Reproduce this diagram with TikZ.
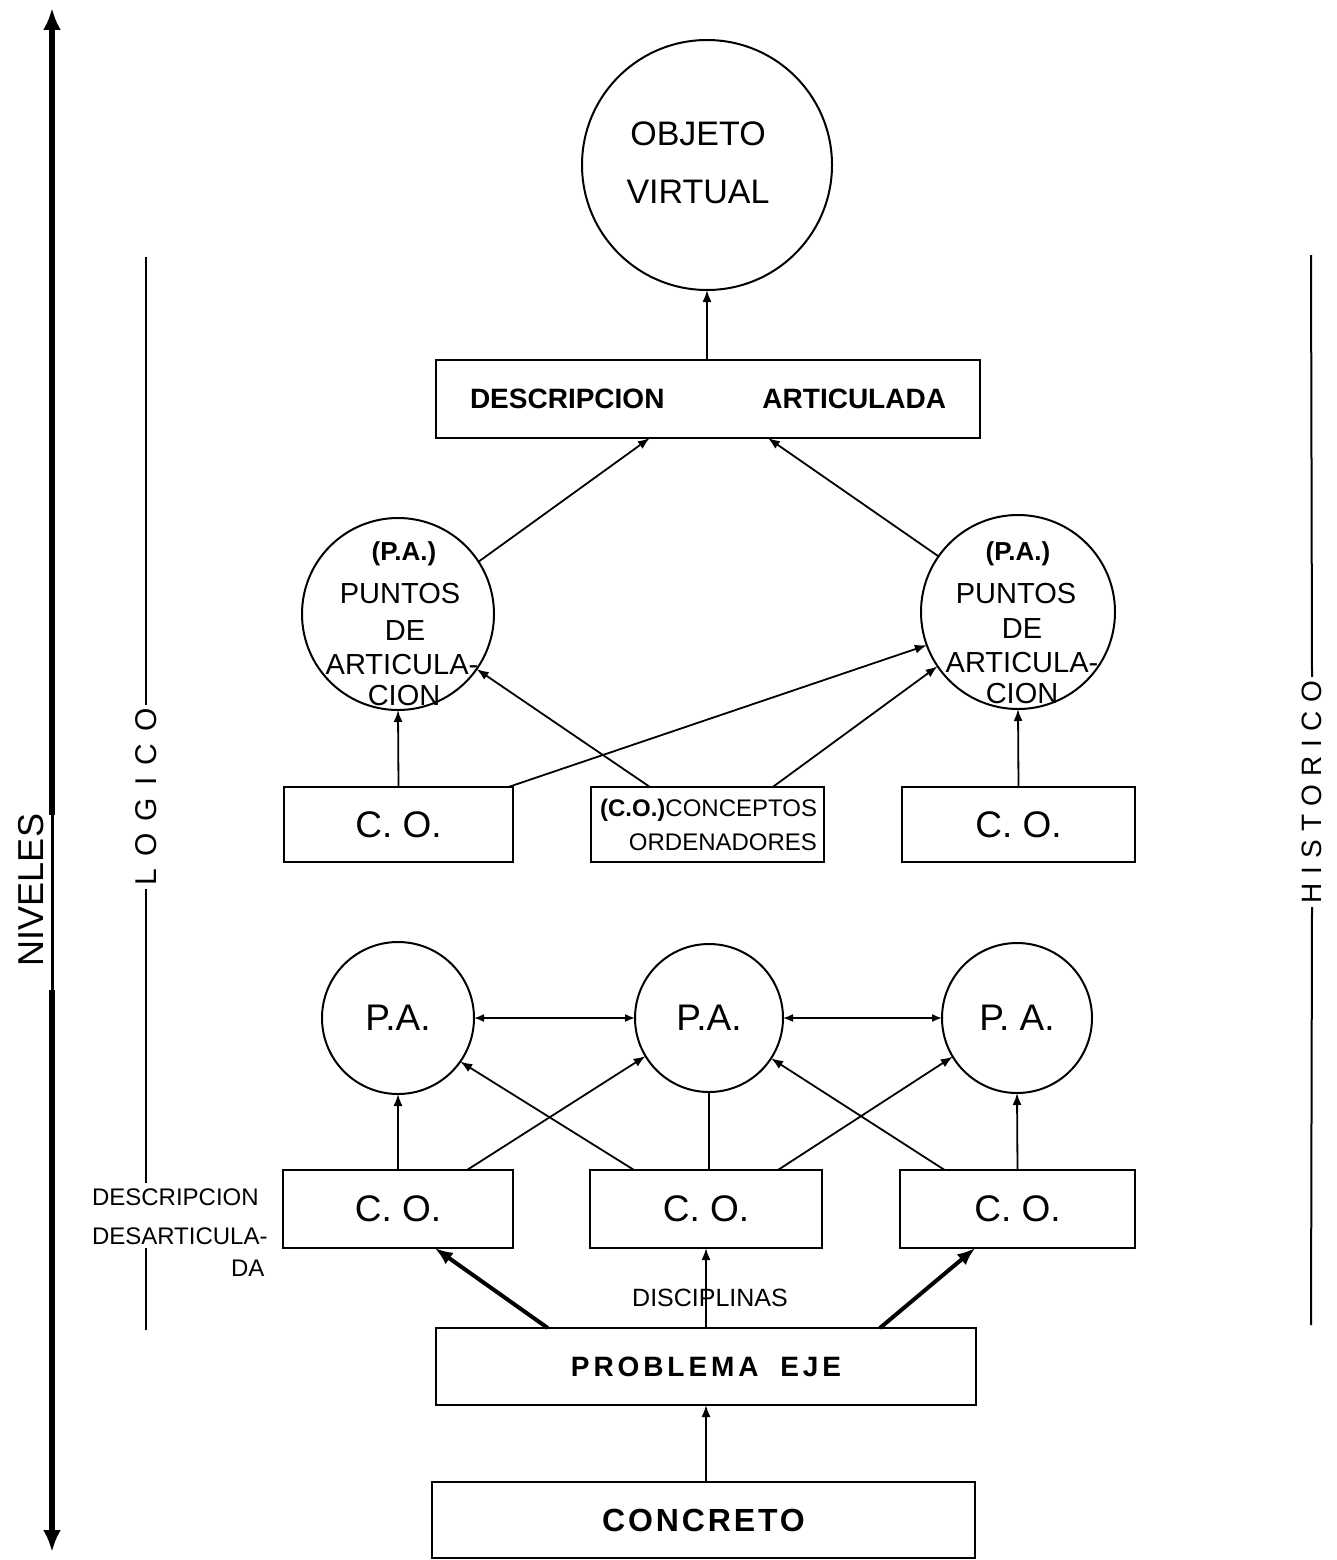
\documentclass[tikz,border=0pt]{standalone}
\usepackage{fontspec}
\setmainfont{Liberation Sans}
\usetikzlibrary{arrows.meta,calc}
\newcommand{\fsz}[1]{\fontsize{#1}{#1}\selectfont}
\begin{document}
\begin{tikzpicture}[x=1pt,y=-1pt,
  boxn/.style={draw, line width=2.6pt, inner sep=0pt, outer sep=0pt},
  circn/.style={draw, circle, line width=2pt, inner sep=0pt, outer sep=0pt},
  conn/.style={line width=1.8pt, -{Latex[length=12pt,width=9pt]}},
  plainconn/.style={line width=1.8pt},
  dconn/.style={line width=1.6pt, {Latex[length=10pt,width=8pt]}-{Latex[length=10pt,width=8pt]}},
  bigconn/.style={line width=4pt, -{Latex[length=18pt,width=14pt]}},
  sideline/.style={line width=2pt},
  txt/.style={inner sep=0pt, outer sep=0pt},
  patxt/.style={txt, anchor=base, font=\fsz{29pt}},
  cotxt/.style={font=\fsz{37pt}}]
\fill[white] (0,0) rectangle (1336,1560);
\useasboundingbox (0,0) rectangle (1336,1560);

% NIVELES axis
\coordinate (nt) at (52,8);
\coordinate (n1) at (52,815);
\coordinate (n2) at (52,990);
\coordinate (nb) at (52,1552);
\draw[line width=6pt, {Latex[length=22pt,width=18pt]}-] (nt) -- (n1);
\draw[line width=3pt] (n1) -- (n2);
\draw[line width=6pt, -{Latex[length=22pt,width=18pt]}] (n2) -- (nb);
\node[txt, rotate=90, font=\fsz{36pt}] (niv) at (31,890) {NIVELES};

% LOGICO side
\coordinate (lt) at (146,257);
\node[txt, rotate=90, inner xsep=4pt, font=\fsz{30pt}\addfontfeatures{LetterSpace=40}] (logico) at (146,797) {LOGICO};
\coordinate (lm) at (146,1183);
\coordinate (lm2) at (146,1248);
\coordinate (lb) at (146,1330);
\draw[sideline] (lt) -- (logico.east);
\draw[sideline] (logico.west) -- (lm);
\draw[sideline] (lm2) -- (lb);

% HISTORICO side
\coordinate (rt) at (1311,255);
\node[txt, rotate=90, inner xsep=4pt, font=\fsz{28pt}\addfontfeatures{LetterSpace=30}] (hist) at (1312,792) {HISTORICO};
\coordinate (rb) at (1311,1325);
\draw[sideline] (rt) -- (hist.east);
\draw[sideline] (hist.west) -- (rb);

% Objeto virtual
\node[circn, minimum size=250pt] (ov) at (707,165) {};
\node[txt, anchor=base, font=\fsz{34pt}] (ovt1) at (698,146) {OBJETO};
\node[txt, anchor=base, font=\fsz{34pt}] (ovt2) at (698,203) {VIRTUAL};

% Descripcion articulada
\node[boxn, minimum width=544pt, minimum height=78pt, font=\bfseries\fsz{28pt}] (da) at (708,399) {DESCRIPCION\hspace{98pt}ARTICULADA};

% Upper puntos de articulacion
\node[circn, minimum size=192pt] (pa1) at (398,614) {};
\node[patxt, font=\bfseries\fsz{26pt}] (pa1a) at (404,560) {(P.A.)};
\node[patxt] (pa1b) at (400,603) {PUNTOS};
\node[patxt] (pa1c) at (405,640) {DE};
\node[patxt] (pa1d) at (402,674) {ARTICULA-};
\node[patxt] (pa1e) at (404,705) {CION};

\node[circn, minimum size=194pt] (pa2) at (1018,612) {};
\node[patxt, font=\bfseries\fsz{26pt}] (pa2a) at (1018,560) {(P.A.)};
\node[patxt] (pa2b) at (1016,603) {PUNTOS};
\node[patxt] (pa2c) at (1022,638) {DE};
\node[patxt] (pa2d) at (1022,672) {ARTICULA-};
\node[patxt] (pa2e) at (1022,703) {CION};

% Upper C.O. boxes
\node[boxn, cotxt, minimum width=229pt, minimum height=75pt] (co1) at (398.5,824.5) {C. O.};
\node[boxn, minimum width=233pt, minimum height=75pt, text width=219pt, align=right, font=\fontsize{24pt}{34pt}\selectfont] (co2) at (707.5,824.5) {{\bfseries(C.O.)}CONCEPTOS\\ORDENADORES};
\node[boxn, cotxt, minimum width=233pt, minimum height=75pt] (co3) at (1018.5,824.5) {C. O.};

% Lower P.A. circles
\node[circn, cotxt, minimum size=152pt] (pb1) at (398,1018) {P.A.};
\node[circn, cotxt, minimum size=148pt] (pb2) at (709,1018) {P.A.};
\node[circn, cotxt, minimum size=150pt] (pb3) at (1017,1018) {P. A.};

% Lower C.O. boxes
\node[boxn, cotxt, minimum width=230pt, minimum height=78pt] (cb1) at (398,1209) {C. O.};
\node[boxn, cotxt, minimum width=232pt, minimum height=78pt] (cb2) at (706,1209) {C. O.};
\node[boxn, cotxt, minimum width=235pt, minimum height=78pt] (cb3) at (1017.5,1209) {C. O.};

% Descripcion desarticulada label
\node[txt, anchor=base west, font=\fsz{24pt}] (dd1) at (92,1205) {DESCRIPCION};
\node[txt, anchor=base west, font=\fsz{24pt}] (dd2) at (92,1244) {DESARTICULA-};
\node[txt, anchor=base west, font=\fsz{24pt}] (dd3) at (231,1276) {DA};

% Problema eje and concreto
\node[boxn, minimum width=540pt, minimum height=77pt, font=\bfseries\fsz{28pt}\addfontfeatures{LetterSpace=14}] (pe) at (706,1366.5) {PROBLEMA\hspace{10pt} EJE};
\node[boxn, minimum width=543pt, minimum height=76pt, font=\bfseries\fsz{32pt}\addfontfeatures{LetterSpace=9}] (cc) at (703.5,1520) {CONCRETO};
\node[txt, font=\fsz{25pt}] (disc) at (710,1298) {DISCIPLINAS};

% Upper connectors
\draw[conn] (da.north -| ov.south) -- (ov.south);
\draw[conn] (pa1.33) -- ($(da.south west)!0.393!(da.south east)$);
\draw[conn] (pa2.145) -- ($(da.south west)!0.610!(da.south east)$);
\draw[conn] (co1.north) -- (pa1.south);
\draw[conn] ($(co2.north west)!0.253!(co2.north east)$) -- (pa1.-35);
\draw[conn] ($(co1.north west)!0.98!(co1.north east)$) -- (pa2.200);
\draw[conn] ($(co2.north west)!0.78!(co2.north east)$) -- (pa2.214);
\draw[conn] (co3.north) -- (pa2.south);

% Lower connectors
\draw[dconn] (pb1.east) -- (pb2.west);
\draw[dconn] (pb2.east) -- (pb3.west);
\draw[conn] (cb1.north) -- (pb1.south);
\draw[conn] ($(cb1.north west)!0.80!(cb1.north east)$) -- (pb2.211);
\draw[conn] ($(cb2.north west)!0.19!(cb2.north east)$) -- (pb1.-35);
\draw[plainconn] (pb2.south |- cb2.north) -- (pb2.south);
\draw[conn] ($(cb2.north west)!0.81!(cb2.north east)$) -- (pb3.211);
\draw[conn] ($(cb3.north west)!0.19!(cb3.north east)$) -- (pb2.-33);
\draw[conn] (cb3.north) -- (pb3.south);

% Bottom connectors
\draw[bigconn] ($(pe.north west)!0.207!(pe.north east)$) -- ($(cb1.south west)!0.66!(cb1.south east)$);
\draw[conn] (pe.north) -- (cb2.south);
\draw[bigconn] ($(pe.north west)!0.822!(pe.north east)$) -- ($(cb3.south west)!0.32!(cb3.south east)$);
\draw[conn] (pe.south |- cc.north) -- (pe.south);
\end{tikzpicture}
\end{document}
